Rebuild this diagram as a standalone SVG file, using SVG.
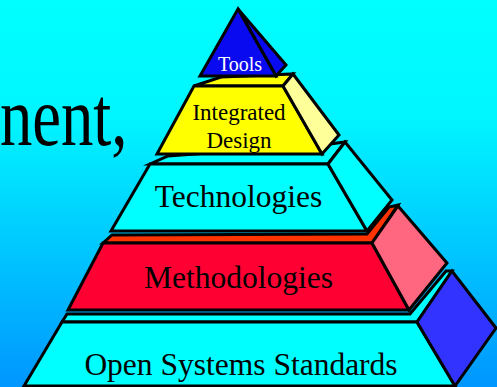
<svg xmlns="http://www.w3.org/2000/svg" width="497" height="387" viewBox="0 0 497 387">
<defs>
<linearGradient id="bg" x1="0" y1="0" x2="0" y2="1">
<stop offset="0" stop-color="#00FFFF"/>
<stop offset="0.3" stop-color="#00F6FF"/>
<stop offset="1" stop-color="#0096FF"/>
</linearGradient>
<style>
.s{stroke:#000;stroke-width:3;stroke-linejoin:miter;stroke-miterlimit:6}
.cy{fill:#00FFFF}
.lbl{font-family:"Liberation Serif","Times New Roman",serif;text-anchor:middle;fill:#000}
</style>
</defs>
<rect x="0" y="0" width="497" height="387" fill="url(#bg)"/>
<text x="0" y="0" transform="translate(0,145) scale(0.77,1)" font-family="Liberation Serif, Times New Roman, serif" font-size="84" fill="#000">nent,</text>
<g id="connectors"></g>
<g id="open-systems-standards">
<polygon class="s cy" points="62,322 67,314 410,314 446,271 452,271 417,322"/>
<polygon class="s cy" points="62,322 417,322 455,386 24,386"/>
<polygon class="s" fill="#3333FF" points="417,322 452,271 496,328 455,386"/>
<text class="lbl" x="241" y="375" font-size="31.5">Open Systems Standards</text>
</g>
<g id="methodologies">
<polygon class="s" fill="#FF3300" points="103,243 112,235 367,234 389,207 398,205 372,243"/>
<polygon class="s" fill="#FF0033" points="103,243 372,243 409,310 68,310"/>
<polygon class="s" fill="#FF6680" points="372,243 398,206 447,263 409,310"/>
<text class="lbl" x="238.5" y="288" font-size="31.5">Methodologies</text>
</g>
<g id="technologies">
<polygon class="s cy" points="150,164 168,156 330,144 345,142 328,164"/>
<polygon class="s cy" points="150,164 328,164 367,231 111,231"/>
<polygon class="s cy" points="328,164 345,142 392,200 367,231"/>
<text class="lbl" x="238.5" y="207" font-size="31.5">Technologies</text>
</g>
<g id="integrated-design">
<polygon class="s" fill="#FFFF00" points="194,86 221,77 293,74 283,86"/>
<polygon class="s" fill="#FFFF00" points="194,86 283,86 322,154 157,154"/>
<polygon class="s" fill="#FFFF99" points="283,86 293,74 339,135 322,154"/>
<text class="lbl" x="239" y="119.5" font-size="23">Integrated</text>
<text class="lbl" x="239" y="147.5" font-size="23">Design</text>
</g>
<g id="tools">
<polygon class="s" fill="#0A0AF0" points="238,9 286,65 276,76"/>
<polygon class="s" fill="#0A0AF0" points="238,9 276,76 200,76"/>
<text class="lbl" x="240" y="70.5" font-size="20" fill="#FFFFFF" style="fill:#FFFFFF">Tools</text>
</g>
</svg>
